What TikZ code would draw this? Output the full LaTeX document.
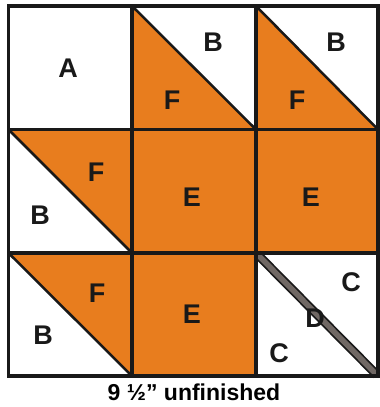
\documentclass[tikz,border=0pt]{standalone}
\usepackage{fontspec}
\setmainfont{Liberation Sans}
\definecolor{quiltorange}{RGB}{232,125,30}
\definecolor{dgrey}{RGB}{112,104,100}
\begin{document}
\begin{tikzpicture}[x=1pt,y=-1pt,
  lab/.style={font=\bfseries\fontsize{27}{27}\selectfont, text=black!90, inner sep=0pt},
  grid/.style={line width=3.5pt, black!90},
  diag/.style={line width=2.5pt, black!90},
  orangefill/.style={fill=quiltorange}]
\useasboundingbox (0,0) rectangle (380,407);
\fill[white] (0,0) rectangle (380,407);
% orange regions
\fill[orangefill] (132,6) -- (132,129.5) -- (256,129.5) -- cycle;
\fill[orangefill] (256,6) -- (256,129.5) -- (378,129.5) -- cycle;
\fill[orangefill] (8.5,129.5) -- (132,129.5) -- (132,253) -- cycle;
\fill[orangefill] (132,129.5) rectangle (378,253);
\fill[orangefill] (8.5,253) -- (132,253) -- (132,376) -- cycle;
\fill[orangefill] (132,253) rectangle (256,376);
% diagonals
\draw[diag] (132,6) -- (256,129.5);
\draw[diag] (256,6) -- (378,129.5);
\draw[diag] (8.5,129.5) -- (132,253);
\draw[diag] (8.5,253) -- (132,376);
% D strip
\draw[line width=9pt, black!90] (257,254) -- (377,375);
\draw[line width=5.5pt, dgrey] (257,254) -- (377,375);
% grid
\draw[grid] (132,6) -- (132,376);
\draw[grid] (256,6) -- (256,376);
\draw[grid] (8.5,129.5) -- (378,129.5);
\draw[grid] (8.5,253) -- (378,253);
\draw[grid] (8.5,6) rectangle (378,376);
% labels
\node[lab] (A) at (68,68) {A};
\node[lab] (B1) at (213,42) {B};
\node[lab] (F1) at (172,100) {F};
\node[lab] (B2) at (336,42) {B};
\node[lab] (F2) at (297,100) {F};
\node[lab] (F3) at (96,172) {F};
\node[lab] (B3) at (40,215) {B};
\node[lab] (E1) at (192,197) {E};
\node[lab] (E2) at (311,197) {E};
\node[lab] (F4) at (97,293) {F};
\node[lab] (B4) at (43,335) {B};
\node[lab] (E3) at (192,314) {E};
\node[lab] (C1) at (351,282) {C};
\node[lab] (D) at (315,318) {D};
\node[lab] (C2) at (279,353) {C};
\node[font=\bfseries\fontsize{23}{23}\selectfont, inner sep=0pt] (cap) at (194,392) {9 ½” unfinished};
\end{tikzpicture}
\end{document}
